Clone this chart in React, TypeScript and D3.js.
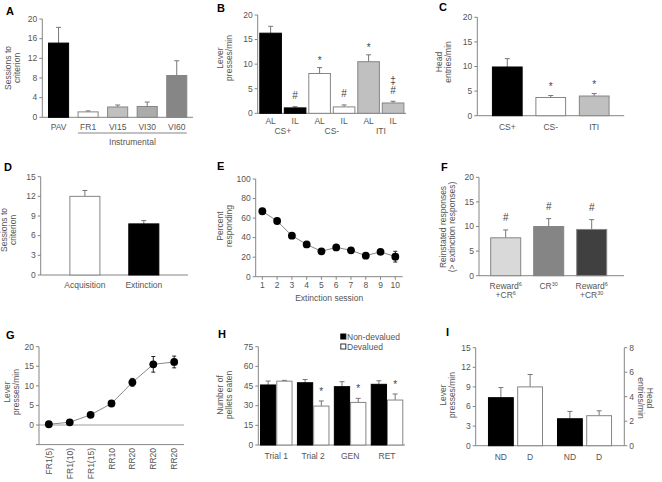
import React from 'react';
import * as d3 from 'd3';

// ---------- DATA ----------
const aCats = ['PAV', 'FR1', 'VI15', 'VI30', 'VI60'];
const aVals = [15.1, 1.1, 2.1, 2.2, 8.5];
const aErr = [3.2, 0.2, 0.4, 0.9, 3.0];
const aTicks = [0, 4, 8, 12, 16, 20];

const bSub = ['AL', 'IL', 'AL', 'IL', 'AL', 'IL'];
const bGroups = ['CS+', 'CS-', 'ITI'];
const bVals = [16.3, 1.1, 8.1, 1.3, 10.5, 2.1];
const bErr = [1.4, 0.25, 1.2, 0.4, 1.4, 0.35];
const bMarks = [[], ['#'], ['*'], ['#'], ['*'], ['#', '‡']];
const bTicks = [0, 5, 10, 15, 20];

const cCats = ['CS+', 'CS-', 'ITI'];
const cVals = [9.9, 3.7, 4.0];
const cErr = [1.7, 0.4, 0.5];
const cMarks = ['', '*', '*'];
const cTicks = [0, 5, 10, 15, 20];

const dCats = ['Acquisition', 'Extinction'];
const dVals = [12.0, 7.8];
const dErr = [0.9, 0.5];
const dTicks = [0, 3, 6, 9, 12, 15];

const eSessions = [1, 2, 3, 4, 5, 6, 7, 8, 9, 10];
const eVals = [67, 57, 42, 33, 26, 30, 27, 21.5, 25.5, 20.5];
const eErr = [1.5, 1.5, 1.5, 1.5, 1.5, 1.5, 1.5, 1.5, 1.5, 5.5];
const eTicks = [0, 20, 40, 60, 80, 100];

const fCats = ['r6cr6', 'cr30', 'r6cr30'];
const fVals = [7.7, 10.0, 9.4];
const fErr = [1.6, 1.6, 2.0];
const fTicks = [0, 5, 10, 15, 20];

const gLabels = ['FR1(5)', 'FR1(10)', 'FR1(15)', 'RR10', 'RR20', 'RR20', 'RR20'];
const gVals = [0.2, 0.7, 2.6, 5.5, 10.9, 15.5, 16.1];
const gErr = [0.2, 0.3, 0.4, 0.6, 1.0, 2.0, 1.5];
const gTicks = [0, 5, 10, 15, 20];

const hGroups = ['Trial 1', 'Trial 2', 'GEN', 'RET'];
const hNonDev = [45.8, 47.5, 44.5, 46.3];
const hNonDevErr = [3.0, 2.5, 3.8, 2.7];
const hDev = [48.7, 29.7, 32.5, 34.3];
const hDevErr = [0.6, 3.9, 3.1, 4.6];
const hStar = [false, true, true, true];
const hTicks = [0, 15, 30, 45, 60, 75];

const iSub = ['ND', 'D'];
const iLever = [7.35, 9.0];
const iLeverErr = [1.55, 1.9];
const iHead = [2.2, 2.45];
const iHeadErr = [0.6, 0.4];
const iTicksL = [0, 3, 6, 9, 12, 15];
const iTicksR = [0, 2, 4, 6, 8];

// ---------- STYLE ----------
const FONT = "'Liberation Sans', Arial, sans-serif";
const TXT = '#555';
const AX = '#858585';
const FS = 8.5;

const T = (p: any) => <text fontFamily={FONT} fontSize={FS} fill={TXT} {...p} />;

const LeftAxis = ({ x, y, ticks, extent, labels = true }: any) => (
  <g>
    <line x1={x} x2={x} y1={y(extent[0])} y2={y(extent[1])} stroke={AX} />
    {ticks.map((t: number) => (
      <g key={t}>
        <line x1={x - 3} x2={x} y1={y(t)} y2={y(t)} stroke={AX} />
        {labels && <T x={x - 5} y={y(t)} dy="0.33em" textAnchor="end">{t}</T>}
      </g>
    ))}
  </g>
);

const RightAxis = ({ x, y, ticks }: any) => (
  <g>
    <line x1={x} x2={x} y1={y(ticks[0])} y2={y(ticks[ticks.length - 1])} stroke={AX} />
    {ticks.map((t: number) => (
      <g key={t}>
        <line x1={x} x2={x + 3} y1={y(t)} y2={y(t)} stroke={AX} />
        <T x={x + 5} y={y(t)} dy="0.33em" textAnchor="start">{t}</T>
      </g>
    ))}
  </g>
);

const HLine = ({ x1, x2, y }: any) => <line x1={x1} x2={x2} y1={y} y2={y} stroke={AX} />;

const Bar = ({ x, w, y0, y1, fill }: any) => (
  <rect x={x} y={y1} width={w} height={y0 - y1} fill={fill} stroke={fill === '#000' ? '#000' : AX} strokeWidth={1} />
);

const Err = ({ cx, y0, y1, color = '#777' }: any) => (
  <g stroke={color}>
    <line x1={cx} x2={cx} y1={y0} y2={y1} />
    <line x1={cx - 2.5} x2={cx + 2.5} y1={y1} y2={y1} />
  </g>
);

const YTitle = ({ x, y, lines, rot = -90, gap = 9 }: any) => (
  <g>
    {lines.map((l: string, i: number) => (
      <T key={i} transform={`translate(${rot < 0 ? x + i * gap : x - i * gap},${y}) rotate(${rot})`} textAnchor="middle">{l}</T>
    ))}
  </g>
);

const Letter = ({ x, y, s }: any) => (
  <text x={x} y={y} fontFamily={FONT} fontWeight="bold" fontSize={11} fill="#000">{s}</text>
);

const Mark = ({ x, y, s }: any) => (
  <text x={x} y={y} textAnchor="middle" fontFamily={FONT} fontSize={10} fill="#444">{s}</text>
);

export default function App() {
  // Panel A
  const aY = d3.scaleLinear().domain([0, 20]).range([117.3, 19]);
  const aX = d3.scaleBand().domain(aCats).range([42.3, 193]).paddingInner(0.32).paddingOuter(0.21);
  const aFill = ['#000', '#fff', '#c0c0c0', '#ababab', '#868686'];

  // Panel B
  const bIdx = bSub.map((_, i) => String(i));
  const bY = d3.scaleLinear().domain([0, 20]).range([113.3, 15]);
  const bX = d3.scaleBand().domain(bIdx).range([257.7, 406]).paddingInner(0.118).paddingOuter(0.086);
  const bFill = ['#000', '#000', '#fff', '#fff', '#c0c0c0', '#c0c0c0'];

  // Panel C
  const cY = d3.scaleLinear().domain([0, 20]).range([115.7, 17.3]);
  const cX = d3.scaleBand().domain(cCats).range([477.3, 624.2]).paddingInner(0.316).paddingOuter(0.348);
  const cFill = ['#000', '#fff', '#c0c0c0'];

  // Panel D
  const dY = d3.scaleLinear().domain([0, 15]).range([275, 176.7]);
  const dX = d3.scaleBand().domain(dCats).range([40.7, 188]).paddingInner(0.49).paddingOuter(0.495);
  const dFill = ['#fff', '#000'];

  // Panel E
  const eY = d3.scaleLinear().domain([0, 100]).range([276.7, 179]);
  const eX = d3.scaleLinear().domain([0.55, 10.5]).range([255.7, 402.7]);
  const eLine = d3.line<number>().x((_, i) => eX(eSessions[i])).y((d) => eY(d));

  // Panel F
  const fY = d3.scaleLinear().domain([0, 20]).range([275.7, 177.3]);
  const fX = d3.scaleBand().domain(fCats).range([479, 618.4]).paddingInner(0.302).paddingOuter(0.272);
  const fFill = ['#d9d9d9', '#858585', '#404040'];

  // Panel G
  const gIdx = gLabels.map((_, i) => String(i));
  const gY = d3.scaleLinear().domain([-5, 20]).range([444.6, 346.7]);
  const gX = d3.scalePoint().domain(gIdx).range([39, 184]).padding(0.47);
  const gLine = d3.line<number>().x((_, i) => gX(String(i)) as number).y((d) => gY(d));

  // Panel H
  const hY = d3.scaleLinear().domain([0, 75]).range([445, 346.7]);
  const hX0 = d3.scaleBand().domain(hGroups).range([258.3, 405]).paddingInner(0.146).paddingOuter(0.06);
  const hX1 = d3.scaleBand().domain(['nd', 'd']).range([0, hX0.bandwidth()]).paddingInner(0.06);

  // Panel I
  const iYL = d3.scaleLinear().domain([0, 15]).range([445.7, 347.7]);
  const iYR = d3.scaleLinear().domain([0, 8]).range([445.7, 347.7]);
  const iX0 = d3.scaleBand().domain(['lever', 'head']).range([475.7, 624.3]).paddingInner(0.217).paddingOuter(0.185);
  const iX1 = d3.scaleBand().domain(iSub).range([0, iX0.bandwidth()]).paddingInner(0.15);
  const iFill = ['#000', '#fff'];

  return (
    <svg width={662} height={482} style={{ position: 'fixed', left: 0, top: 0, background: '#fff' }}>
      <rect width={662} height={482} fill="#fff" />

      {/* ---------------- A ---------------- */}
      <Letter x={6} y={15} s="A" />
      <YTitle x={10.5} y={68} lines={['Sessions to', 'criterion']} />
      <LeftAxis x={42.3} y={aY} ticks={aTicks} extent={[0, 20]} />
      <HLine x1={42.3} x2={193} y={aY(0)} />
      {aCats.map((c, i) => {
        const x = aX(c) as number, w = aX.bandwidth(), cx = x + w / 2;
        return (
          <g key={c}>
            <Err cx={cx} y0={aY(aVals[i])} y1={aY(aVals[i] + aErr[i])} />
            <Bar x={x} w={w} y0={aY(0)} y1={aY(aVals[i])} fill={aFill[i]} />
            <T x={cx} y={129.5} textAnchor="middle">{c}</T>
          </g>
        );
      })}
      <HLine x1={aX('FR1') as number} x2={(aX('VI60') as number) + aX.bandwidth()} y={133} />
      <T x={((aX('FR1') as number) + (aX('VI60') as number) + aX.bandwidth()) / 2} y={144.5} textAnchor="middle">Instrumental</T>

      {/* ---------------- B ---------------- */}
      <Letter x={217} y={12} s="B" />
      <YTitle x={223} y={58} lines={['Lever', 'presses/min']} />
      <LeftAxis x={257.7} y={bY} ticks={bTicks} extent={[0, 20]} />
      <HLine x1={257.7} x2={406} y={bY(0)} />
      {bIdx.map((k, i) => {
        const x = bX(k) as number, w = bX.bandwidth(), cx = x + w / 2;
        const top = bY(bVals[i] + bErr[i]);
        return (
          <g key={k}>
            <Err cx={cx} y0={bY(bVals[i])} y1={top} />
            <Bar x={x} w={w} y0={bY(0)} y1={bY(bVals[i])} fill={bFill[i]} />
            <T x={cx} y={123.5} textAnchor="middle">{bSub[i]}</T>
            {bMarks[i].map((m, j) => (
              <Mark key={j} x={cx} y={m === '*' ? top - 4 : top - 7.5 - j * 10} s={m} />
            ))}
          </g>
        );
      })}
      {bGroups.map((g, gi) => {
        const c1 = (bX(String(gi * 2)) as number) + bX.bandwidth() / 2;
        const c2 = (bX(String(gi * 2 + 1)) as number) + bX.bandwidth() / 2;
        return <T key={g} x={(c1 + c2) / 2} y={134} textAnchor="middle">{g}</T>;
      })}

      {/* ---------------- C ---------------- */}
      <Letter x={439} y={11} s="C" />
      <YTitle x={441.5} y={62} lines={['Head', 'entries/min']} />
      <LeftAxis x={477.3} y={cY} ticks={cTicks} extent={[0, 20]} />
      <HLine x1={477.3} x2={624.2} y={cY(0)} />
      {cCats.map((c, i) => {
        const x = cX(c) as number, w = cX.bandwidth(), cx = x + w / 2;
        const top = cY(cVals[i] + cErr[i]);
        return (
          <g key={c}>
            <Err cx={cx} y0={cY(cVals[i])} y1={top} />
            <Bar x={x} w={w} y0={cY(0)} y1={cY(cVals[i])} fill={cFill[i]} />
            <T x={cx} y={129.5} textAnchor="middle">{c}</T>
            {cMarks[i] && <Mark x={cx} y={top - 6} s={cMarks[i]} />}
          </g>
        );
      })}

      {/* ---------------- D ---------------- */}
      <Letter x={4} y={171} s="D" />
      <YTitle x={7} y={230} lines={['Sessions to', 'criterion']} />
      <LeftAxis x={40.7} y={dY} ticks={dTicks} extent={[0, 15]} />
      <HLine x1={40.7} x2={188} y={dY(0)} />
      {dCats.map((c, i) => {
        const x = dX(c) as number, w = dX.bandwidth(), cx = x + w / 2;
        return (
          <g key={c}>
            <Err cx={cx} y0={dY(dVals[i])} y1={dY(dVals[i] + dErr[i])} />
            <Bar x={x} w={w} y0={dY(0)} y1={dY(dVals[i])} fill={dFill[i]} />
            <T x={cx} y={287.5} textAnchor="middle">{c}</T>
          </g>
        );
      })}

      {/* ---------------- E ---------------- */}
      <Letter x={217} y={170} s="E" />
      <YTitle x={222.5} y={226} lines={['Percent', 'responding']} />
      <LeftAxis x={255.7} y={eY} ticks={eTicks} extent={[0, 100]} />
      <HLine x1={255.7} x2={402.7} y={eY(0)} />
      {eSessions.map((s) => (
        <g key={s}>
          <line x1={eX(s)} x2={eX(s)} y1={eY(0)} y2={eY(0) + 3} stroke={AX} />
          <T x={eX(s)} y={288} textAnchor="middle">{s}</T>
        </g>
      ))}
      <T x={(255.7 + 402.7) / 2} y={300.5} textAnchor="middle">Extinction session</T>
      {eSessions.map((s, i) => (
        <g key={'e' + s} stroke="#222">
          <line x1={eX(s)} x2={eX(s)} y1={eY(eVals[i] - eErr[i])} y2={eY(eVals[i] + eErr[i])} />
          <line x1={eX(s) - 2} x2={eX(s) + 2} y1={eY(eVals[i] + eErr[i])} y2={eY(eVals[i] + eErr[i])} />
          <line x1={eX(s) - 2} x2={eX(s) + 2} y1={eY(eVals[i] - eErr[i])} y2={eY(eVals[i] - eErr[i])} />
        </g>
      ))}
      <path d={eLine(eVals) as string} fill="none" stroke="#888" strokeWidth={1} />
      {eSessions.map((s, i) => (
        <circle key={'c' + s} cx={eX(s)} cy={eY(eVals[i])} r={3.9} fill="#000" />
      ))}

      {/* ---------------- F ---------------- */}
      <Letter x={441} y={171} s="F" />
      <YTitle x={445.5} y={227} lines={['Reinstated responses', '(> extinction responses)']} />
      <LeftAxis x={479} y={fY} ticks={fTicks} extent={[0, 20]} />
      <HLine x1={479} x2={624} y={fY(0)} />
      {fCats.map((c, i) => {
        const x = fX(c) as number, w = fX.bandwidth(), cx = x + w / 2;
        const top = fY(fVals[i] + fErr[i]);
        return (
          <g key={c}>
            <Err cx={cx} y0={fY(fVals[i])} y1={top} />
            <Bar x={x} w={w} y0={fY(0)} y1={fY(fVals[i])} fill={fFill[i]} />
            <Mark x={cx} y={top - 9} s="#" />
          </g>
        );
      })}
      {(() => {
        const cx = (c: string) => (fX(c) as number) + fX.bandwidth() / 2;
        const sup = (s: string) => <tspan dy={-3.5} fontSize={5.5}>{s}</tspan>;
        return (
          <g>
            <T x={cx('r6cr6')} y={289} textAnchor="middle"><tspan>Reward</tspan>{sup('6')}</T>
            <T x={cx('r6cr6')} y={298} textAnchor="middle"><tspan>+CR</tspan>{sup('6')}</T>
            <T x={cx('cr30')} y={289} textAnchor="middle"><tspan>CR</tspan>{sup('30')}</T>
            <T x={cx('r6cr30')} y={289} textAnchor="middle"><tspan>Reward</tspan>{sup('6')}</T>
            <T x={cx('r6cr30')} y={298} textAnchor="middle"><tspan>+CR</tspan>{sup('30')}</T>
          </g>
        );
      })()}

      {/* ---------------- G ---------------- */}
      <Letter x={6} y={339} s="G" />
      <YTitle x={10} y={392} lines={['Lever', 'presses/min']} />
      <line x1={39} x2={184} y1={gY(0)} y2={gY(0)} stroke="#cfcfcf" strokeWidth={2} />
      <LeftAxis x={39} y={gY} ticks={gTicks} extent={[-5, 20]} />
      <line x1={36} x2={39} y1={gY(-5)} y2={gY(-5)} stroke={AX} />
      <HLine x1={39} x2={184} y={gY(-5)} />
      {gIdx.map((k, i) => (
        <T key={'gl' + k} transform={`translate(${(gX(k) as number) + 3},448) rotate(-90)`} textAnchor="end">{gLabels[i]}</T>
      ))}
      {gIdx.map((k, i) => {
        const x = gX(k) as number;
        return (
          <g key={'ge' + k} stroke="#222">
            <line x1={x} x2={x} y1={gY(gVals[i] - gErr[i])} y2={gY(gVals[i] + gErr[i])} />
            <line x1={x - 2} x2={x + 2} y1={gY(gVals[i] + gErr[i])} y2={gY(gVals[i] + gErr[i])} />
            <line x1={x - 2} x2={x + 2} y1={gY(gVals[i] - gErr[i])} y2={gY(gVals[i] - gErr[i])} />
          </g>
        );
      })}
      <path d={gLine(gVals) as string} fill="none" stroke="#888" strokeWidth={1} />
      {gIdx.map((k, i) => (
        <circle key={'gc' + k} cx={gX(k) as number} cy={gY(gVals[i])} r={3.9} fill="#000" />
      ))}

      {/* ---------------- H ---------------- */}
      <Letter x={218} y={338} s="H" />
      <YTitle x={223} y={395} lines={['Number of', 'pellets eaten']} />
      <LeftAxis x={258.3} y={hY} ticks={hTicks} extent={[0, 75]} />
      <HLine x1={258.3} x2={405} y={hY(0)} />
      {hGroups.map((g, i) => {
        const gx = hX0(g) as number, w = hX1.bandwidth();
        const xn = gx + (hX1('nd') as number), xd = gx + (hX1('d') as number);
        const topD = hY(hDev[i] + hDevErr[i]);
        return (
          <g key={g}>
            <Err cx={xn + w / 2} y0={hY(hNonDev[i])} y1={hY(hNonDev[i] + hNonDevErr[i])} />
            <Err cx={xd + w / 2} y0={hY(hDev[i])} y1={topD} />
            <Bar x={xn} w={w} y0={hY(0)} y1={hY(hNonDev[i])} fill="#000" />
            <Bar x={xd} w={w} y0={hY(0)} y1={hY(hDev[i])} fill="#fff" />
            {hStar[i] && <Mark x={xd + w / 2} y={topD - 6} s="*" />}
            <T x={gx + hX0.bandwidth() / 2} y={459} textAnchor="middle">{g}</T>
          </g>
        );
      })}
      <rect x={340.8} y={334} width={5} height={5} fill="#000" stroke="#000" />
      <T x={347} y={339.5}>Non-devalued</T>
      <rect x={340.8} y={344} width={5} height={5} fill="#fff" stroke="#333" />
      <T x={347} y={349.5}>Devalued</T>

      {/* ---------------- I ---------------- */}
      <Letter x={446} y={336} s="I" />
      <YTitle x={445.5} y={395} lines={['Lever', 'presses/min']} />
      <YTitle x={647} y={398} rot={90} lines={['Head', 'entries/min']} />
      <LeftAxis x={475.7} y={iYL} ticks={iTicksL} extent={[0, 15]} />
      <RightAxis x={624.3} y={iYR} ticks={iTicksR} />
      <HLine x1={475.7} x2={624.3} y={iYL(0)} />
      {iSub.map((s, j) => {
        const x = (iX0('lever') as number) + (iX1(s) as number), w = iX1.bandwidth();
        return (
          <g key={'il' + s}>
            <Err cx={x + w / 2} y0={iYL(iLever[j])} y1={iYL(iLever[j] + iLeverErr[j])} />
            <Bar x={x} w={w} y0={iYL(0)} y1={iYL(iLever[j])} fill={iFill[j]} />
            <T x={x + w / 2} y={459.5} textAnchor="middle">{s}</T>
          </g>
        );
      })}
      {iSub.map((s, j) => {
        const x = (iX0('head') as number) + (iX1(s) as number), w = iX1.bandwidth();
        return (
          <g key={'ih' + s}>
            <Err cx={x + w / 2} y0={iYR(iHead[j])} y1={iYR(iHead[j] + iHeadErr[j])} />
            <Bar x={x} w={w} y0={iYR(0)} y1={iYR(iHead[j])} fill={iFill[j]} />
            <T x={x + w / 2} y={459.5} textAnchor="middle">{s}</T>
          </g>
        );
      })}
    </svg>
  );
}
